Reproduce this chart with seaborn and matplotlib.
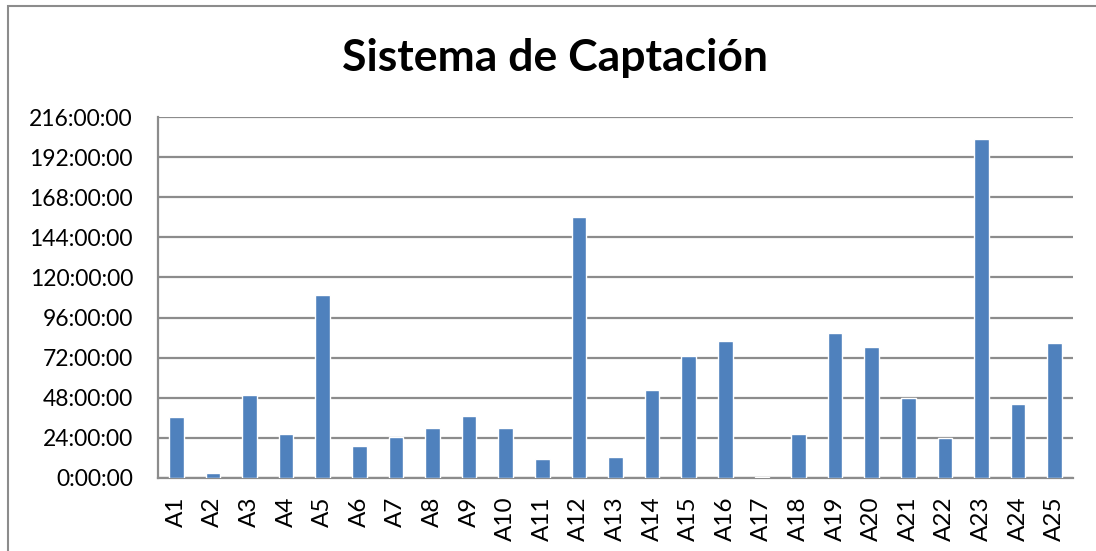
import matplotlib
matplotlib.use("Agg")
import matplotlib.pyplot as plt
from matplotlib.ticker import FuncFormatter
from matplotlib.patches import Rectangle
import seaborn as sns
import pandas as pd

# Downtime per site, in hours
sites = ["A1", "A2", "A3", "A4", "A5", "A6", "A7", "A8", "A9", "A10",
         "A11", "A12", "A13", "A14", "A15", "A16", "A17", "A18", "A19", "A20",
         "A21", "A22", "A23", "A24", "A25"]
hours = [36.4, 2.8, 49.6, 26.2, 109.6, 19.1, 24.8, 30.1, 36.8, 30.1,
         11.2, 156.0, 12.3, 52.4, 73.0, 81.8, 0.8, 26.4, 86.9, 78.6,
         48.0, 24.0, 202.7, 44.3, 80.8]
y_ticks = list(range(0, 217, 24))

df = pd.DataFrame({"site": sites, "hours": hours})

sns.set_theme(style="white")
plt.rcParams["font.family"] = ["Lato", "DejaVu Sans"]

fig = plt.figure(figsize=(10.96, 5.51), dpi=100)
ax = fig.add_axes([158 / 1096, 1 - 478 / 551, (1073 - 158) / 1096, (478 - 117) / 551])

sns.barplot(data=df, x="site", y="hours", color="#4F81BD", saturation=1,
            width=0.4, ax=ax, zorder=3)

ax.set_ylim(0, 216)
ax.set_xlim(-0.5, len(sites) - 0.5)
ax.set_yticks(y_ticks)
ax.yaxis.set_major_formatter(FuncFormatter(lambda v, p: f"{int(round(v))}:00:00"))
ax.grid(axis="y", color="#8c8c8c", linewidth=1.6, zorder=0)
ax.set_axisbelow(True)

for s in ["top", "right"]:
    ax.spines[s].set_visible(False)
for s in ["left", "bottom"]:
    ax.spines[s].set_color("#8c8c8c")
    ax.spines[s].set_linewidth(1.6)

ax.tick_params(axis="y", labelsize=16.5, colors="black", pad=18, length=0)
ax.tick_params(axis="x", labelsize=17.5, colors="black", rotation=90, pad=13.5, length=0)
ax.set_xlabel("")
ax.set_ylabel("")

fig.text(555 / 1096, 1 - 58 / 551, "Sistema de Captación", ha="center", va="center",
         fontsize=32, fontweight="bold", color="black")

# chart frame
fig.patches.append(Rectangle((8 / 1096, -0.1), 1.2, 1 - 6 / 551 + 0.1,
                             transform=fig.transFigure, fill=False,
                             edgecolor="#8c8c8c", linewidth=1.5))

fig.savefig("out.png", dpi=100, facecolor="white")
